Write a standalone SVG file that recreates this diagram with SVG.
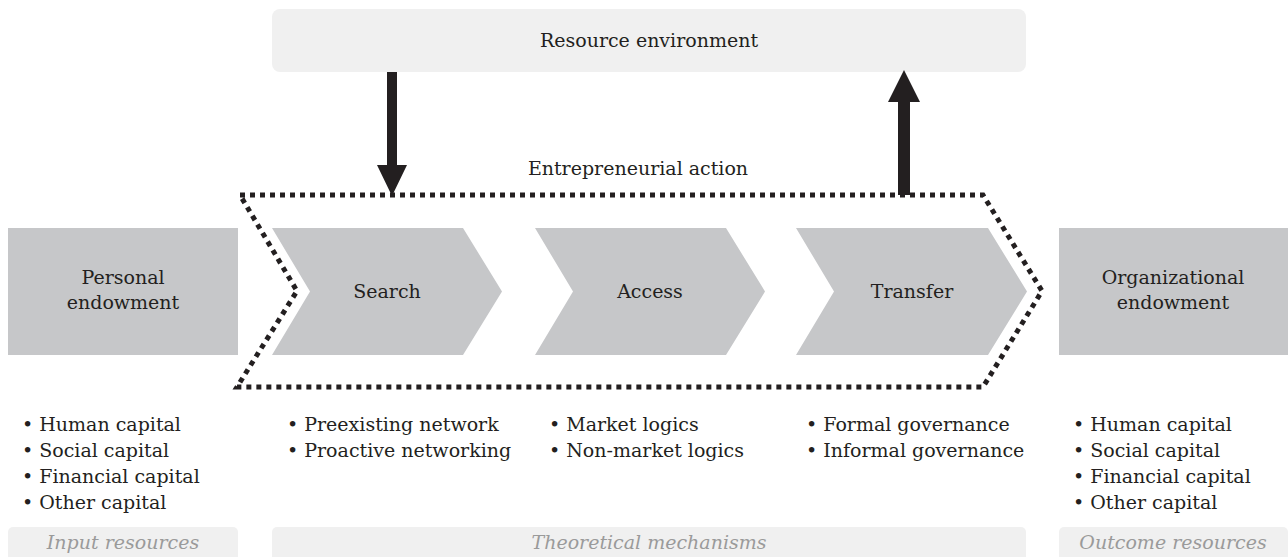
<svg xmlns="http://www.w3.org/2000/svg" width="1288" height="557" viewBox="0 0 1288 557">
<defs>
<style>
.t{font-family:"DejaVu Serif","Liberation Serif",serif;font-size:19px;fill:#231f20}
.c{text-anchor:middle}
.lab{font-family:"DejaVu Serif","Liberation Serif",serif;font-size:19px;font-style:italic;fill:#9a9a9a;text-anchor:middle}
.box{fill:#c6c7c9}
.pale{fill:#f0f0f0}
.arrow{fill:#231f20}
</style>
</defs>
<rect width="1288" height="557" fill="#ffffff"/>
<g id="resource-environment">
<rect class="pale" x="272" y="9" width="754" height="63" rx="8"/>
<text class="t c" x="649" y="47">Resource environment</text>
</g>
<g id="personal-endowment">
<rect class="box" x="8" y="228" width="230" height="127"/>
<text class="t c" x="123" y="284">Personal</text>
<text class="t c" x="123" y="309">endowment</text>
</g>
<g id="organizational-endowment">
<rect class="box" x="1059" y="228" width="229" height="127"/>
<text class="t c" x="1173" y="284">Organizational</text>
<text class="t c" x="1173" y="309">endowment</text>
</g>
<g id="search">
<polygon class="box" points="272,228 463,228 502,291.5 463,355 272,355 310,291.5"/>
<text class="t c" x="387" y="298">Search</text>
</g>
<g id="access">
<polygon class="box" points="535,228 726,228 765,291.5 726,355 535,355 573,291.5"/>
<text class="t c" x="650" y="298">Access</text>
</g>
<g id="transfer">
<polygon class="box" points="796,228 988,228 1027,291.5 988,355 796,355 834,291.5"/>
<text class="t c" x="912" y="298">Transfer</text>
</g>
<g id="entrepreneurial-action">
<polygon points="240,195 983,195 1042,291 983,387 237,387 297,291" fill="none" stroke="#231f20" stroke-width="5" stroke-dasharray="5 5"/>
<text class="t c" x="638" y="175">Entrepreneurial action</text>
</g>
<g id="connectors">
<polygon class="arrow" points="387,72 397,72 397,165 407,165 392,196 377,165 387,165"/>
<polygon class="arrow" points="898,195 910,195 910,102 920,102 904,70 888,102 898,102"/>
</g>
<g id="input-list">
<text class="t" x="22" y="431">• Human capital</text>
<text class="t" x="22" y="457">• Social capital</text>
<text class="t" x="22" y="483">• Financial capital</text>
<text class="t" x="22" y="509">• Other capital</text>
</g>
<g id="search-list">
<text class="t" x="287" y="431">• Preexisting network</text>
<text class="t" x="287" y="457">• Proactive networking</text>
</g>
<g id="access-list">
<text class="t" x="549" y="431">• Market logics</text>
<text class="t" x="549" y="457">• Non-market logics</text>
</g>
<g id="transfer-list">
<text class="t" x="806" y="431">• Formal governance</text>
<text class="t" x="806" y="457">• Informal governance</text>
</g>
<g id="outcome-list">
<text class="t" x="1073" y="431">• Human capital</text>
<text class="t" x="1073" y="457">• Social capital</text>
<text class="t" x="1073" y="483">• Financial capital</text>
<text class="t" x="1073" y="509">• Other capital</text>
</g>
<g id="input-resources">
<rect class="pale" x="8" y="527" width="230" height="34" rx="5"/>
<text class="lab" x="123" y="549">Input resources</text>
</g>
<g id="theoretical-mechanisms">
<rect class="pale" x="272" y="527" width="754" height="34" rx="5"/>
<text class="lab" x="649" y="549">Theoretical mechanisms</text>
</g>
<g id="outcome-resources">
<rect class="pale" x="1059" y="527" width="229" height="34" rx="5"/>
<text class="lab" x="1173" y="549">Outcome resources</text>
</g>
</svg>
